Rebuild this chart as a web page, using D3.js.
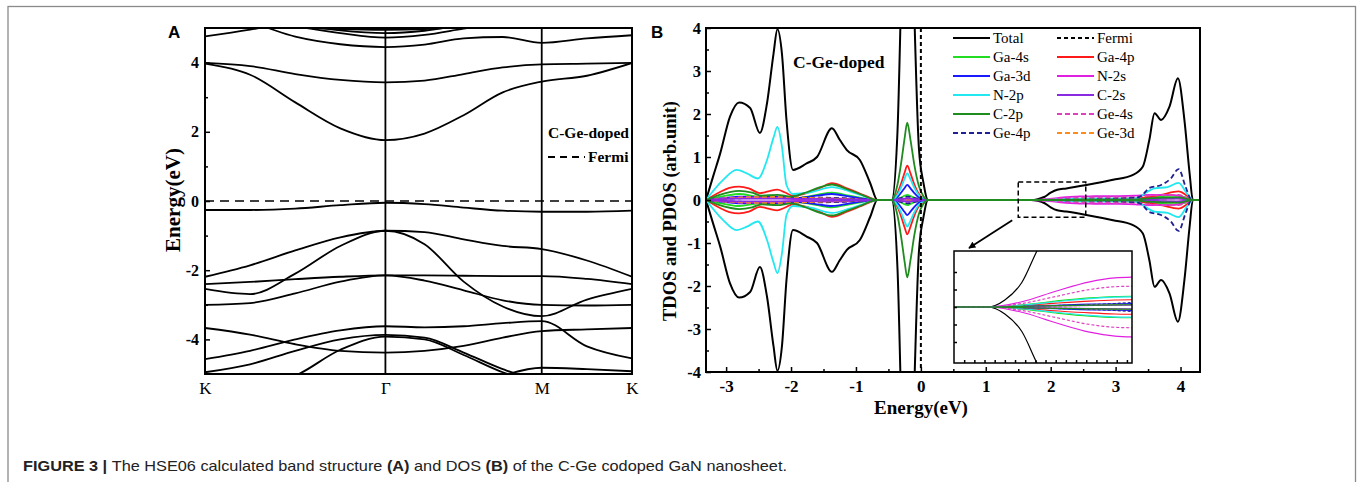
<!DOCTYPE html>
<html>
<head>
<meta charset="utf-8">
<script src="https://cdn.jsdelivr.net/npm/d3@7"></script>
<style>
  body { margin: 0; background: #fff; }
  svg { display: block; }
</style>
</head>
<body>
<svg id="fig"></svg>
<script>
const width = 1358;
const height = 482;
const serif = '"Liberation Serif", "Times New Roman", serif';

// ---- panel A : band structure ----
const kLabels = ['K', 'Γ', 'M', 'K'];
const kNodes = [0, 1.333, 2.488, 3.155];
const kGrid = [0, 0.333, 0.667, 1.0, 1.333, 1.622, 1.911, 2.2, 2.488, 2.822, 3.155];
const energyTicksA = [-4, -2, 0, 2, 4];

// energies (eV) at each kGrid point, values past +-5 run out of the frame
const conductionBands = [
  [3.97, 3.65, 2.85, 2.1, 1.76, 1.95, 2.48, 3.14, 3.45, 3.62, 3.99],
  [3.99, 3.9, 3.67, 3.5, 3.43, 3.48, 3.67, 3.86, 3.95, 3.97, 3.99],
  [5.3, 5.15, 4.75, 4.53, 4.45, 4.52, 4.7, 4.74, 4.57, 4.7, 4.79],
  [4.76, 4.95, 5.2, 5.4, 5.4, 5.4, 5.4, 5.4, 5.4, 5.4, 5.4],
  [5.4, 5.25, 5.05, 4.85, 4.72, 4.8, 4.98, 5.15, 5.3, 5.3, 5.3],
  [5.4, 5.35, 5.12, 4.93, 4.85, 4.92, 5.1, 5.3, 5.4, 5.4, 5.4],
  [5.3, 5.2, 5.02, 4.97, 4.95, 4.97, 5.05, 5.2, 5.3, 5.3, 5.3]
];
const defectBand = [-0.26, -0.26, -0.22, -0.12, -0.05, -0.09, -0.19, -0.28, -0.31, -0.31, -0.28];
const valenceBands = [
  [-2.19, -1.86, -1.43, -1.05, -0.86, -0.9, -1.11, -1.3, -1.39, -1.72, -2.19],
  [-2.54, -2.69, -2.1, -1.3, -0.86, -1.25, -2.33, -3.05, -3.33, -2.85, -2.54],
  [-2.4, -2.34, -2.26, -2.19, -2.15, -2.15, -2.16, -2.17, -2.17, -2.25, -2.4],
  [-3.0, -2.95, -2.67, -2.33, -2.15, -2.3, -2.58, -2.87, -3.0, -3.02, -3.0],
  [-3.67, -3.86, -4.14, -4.33, -4.38, -4.33, -4.19, -3.95, -3.76, -3.71, -3.67],
  [-4.57, -4.33, -4.0, -3.74, -3.62, -3.65, -3.62, -3.53, -3.47, -4.2, -4.55],
  [-4.95, -4.72, -4.33, -4.0, -3.87, -3.95, -4.38, -4.86, -5.2, -5.3, -5.3],
  [-5.5, -5.4, -5.05, -4.3, -3.92, -4.0, -4.45, -4.95, -5.3, -5.4, -5.5],
  [-5.5, -5.5, -5.5, -5.5, -5.5, -5.5, -5.5, -5.05, -4.82, -4.86, -4.92]
];

// ---- panel B : TDOS / PDOS, [energy, states] ----
const dosTotal = [[-3.31,0],[-3.2,0.55],[-3.09,1.09],[-2.94,1.94],[-2.8,2.27],[-2.63,2.14],[-2.48,1.56],[-2.37,2.25],[-2.27,3.4],[-2.21,3.97],[-2.14,3.4],[-2.07,1.86],[-1.97,0.7],[-1.76,0.85],[-1.6,1.0],[-1.37,1.67],[-1.25,1.4],[-1.14,1.16],[-0.94,0.93],[-0.78,0.39],[-0.67,0],
  [-0.45,0],[-0.36,1.6],[-0.3,5],[-0.25,8],[-0.21,9],[-0.16,8],[-0.1,4.3],[-0.03,1.2],[0.04,0.4],[0.11,0],
  [1.7,0],[1.8,0.02],[1.9,0.07],[2.0,0.17],[2.1,0.24],[2.24,0.27],[2.55,0.35],[2.96,0.47],[3.26,0.58],[3.42,0.78],[3.52,1.4],[3.6,2.02],[3.7,1.86],[3.83,2.17],[3.96,2.83],[4.06,1.86],[4.14,0.62],[4.19,0],[4.3,0]];
const dosGa4s = [[-3.31,0],[-3.0,0.1],[-2.8,0.14],[-2.5,0.08],[-2.21,0.07],[-1.9,0.05],[-1.6,0.12],[-1.37,0.17],[-1.1,0.1],[-0.85,0.03],[-0.67,0],
  [-0.45,0],[-0.36,0.02],[-0.3,0.06],[-0.25,0.1],[-0.21,0.12],[-0.16,0.09],[-0.1,0.05],[-0.03,0.02],[0.04,0.005],[0.11,0],
  [1.7,0],[1.9,0.006],[2.1,0.017],[2.3,0.026],[2.45,0.03],[2.6,0.031],[3.3,0.04],[3.6,0.08],[3.97,0.1],[4.1,0.05],[4.19,0],[4.3,0]];
const dosGa4p = [[-3.31,0],[-3.1,0.18],[-2.95,0.28],[-2.8,0.31],[-2.65,0.27],[-2.48,0.16],[-2.35,0.2],[-2.21,0.24],[-2.1,0.18],[-1.97,0.1],[-1.76,0.16],[-1.55,0.28],[-1.37,0.39],[-1.14,0.27],[-0.94,0.15],[-0.78,0.05],[-0.67,0],
  [-0.45,0],[-0.36,0.16],[-0.3,0.4],[-0.25,0.64],[-0.21,0.8],[-0.16,0.62],[-0.1,0.36],[-0.03,0.14],[0.04,0.04],[0.11,0],
  [1.7,0],[1.9,0.004],[2.1,0.011],[2.3,0.017],[2.45,0.02],[2.6,0.021],[3.3,0.03],[3.5,0.07],[3.7,0.12],[3.97,0.2],[4.1,0.1],[4.19,0],[4.3,0]];
const dosGa3d = [[-3.31,0],[-3.0,0.05],[-2.8,0.08],[-2.5,0.06],[-2.21,0.08],[-1.9,0.05],[-1.6,0.1],[-1.37,0.14],[-1.1,0.08],[-0.9,0.03],[-0.67,0],
  [-0.45,0],[-0.36,0.07],[-0.3,0.18],[-0.25,0.28],[-0.21,0.35],[-0.16,0.27],[-0.1,0.16],[-0.03,0.06],[0.04,0.02],[0.11,0],
  [1.7,0],[1.9,0.002],[2.1,0.005],[2.3,0.008],[2.45,0.009],[2.6,0.01],[3.3,0.015],[3.6,0.04],[3.97,0.05],[4.19,0],[4.3,0]];
const dosN2s = [[-3.31,0],[-3.0,0.03],[-2.8,0.05],[-2.21,0.05],[-1.9,0.02],[-1.37,0.04],[-0.67,0],
  [-0.45,0],[-0.36,0.005],[-0.3,0.015],[-0.25,0.025],[-0.21,0.03],[-0.16,0.025],[-0.1,0.015],[-0.03,0.005],[0.11,0],
  [1.7,0],[1.9,0.015],[2.1,0.045],[2.3,0.072],[2.45,0.083],[2.6,0.086],[3.0,0.09],[3.3,0.1],[3.5,0.12],[3.8,0.12],[3.97,0.1],[4.19,0],[4.3,0]];
const dosN2p = [[-3.31,0],[-3.05,0.46],[-2.84,0.7],[-2.68,0.62],[-2.51,0.5],[-2.37,0.93],[-2.27,1.45],[-2.21,1.7],[-2.14,1.24],[-2.07,0.35],[-1.97,0.14],[-1.7,0.18],[-1.37,0.3],[-1.1,0.2],[-0.9,0.1],[-0.67,0],
  [-0.45,0],[-0.36,0.12],[-0.3,0.31],[-0.25,0.5],[-0.21,0.62],[-0.16,0.48],[-0.1,0.28],[-0.03,0.11],[0.04,0.03],[0.11,0],
  [1.7,0],[1.9,0.005],[2.1,0.015],[2.3,0.024],[2.45,0.028],[2.6,0.029],[3.3,0.035],[3.5,0.2],[3.6,0.27],[3.8,0.3],[3.97,0.4],[4.1,0.15],[4.19,0],[4.3,0]];
const dosC2s = [[-3.31,0],[-2.8,0.03],[-2.2,0.03],[-1.37,0.02],[-0.67,0],
  [-0.45,0],[-0.36,0.01],[-0.3,0.02],[-0.25,0.03],[-0.21,0.035],[-0.16,0.03],[-0.1,0.02],[-0.03,0.01],[0.11,0],
  [1.7,0],[2.1,0.003],[2.45,0.005],[3.3,0.01],[3.97,0.03],[4.19,0],[4.3,0]];
const dosC2p = [[-3.31,0],[-3.1,0.12],[-2.8,0.21],[-2.6,0.17],[-2.45,0.1],[-2.21,0.12],[-2.0,0.08],[-1.76,0.18],[-1.55,0.3],[-1.37,0.36],[-1.14,0.25],[-0.94,0.14],[-0.78,0.04],[-0.67,0],
  [-0.45,0],[-0.36,0.36],[-0.3,0.9],[-0.25,1.44],[-0.21,1.8],[-0.16,1.4],[-0.1,0.81],[-0.03,0.32],[0.04,0.09],[0.11,0],
  [1.7,0],[1.9,0.002],[2.1,0.004],[2.45,0.006],[3.3,0.01],[3.5,0.04],[3.97,0.06],[4.19,0],[4.3,0]];
const dosGe4s = [[-3.31,0],[-2.8,0.06],[-2.3,0.08],[-1.9,0.04],[-1.37,0.04],[-0.67,0],
  [-0.45,0],[-0.36,0.01],[-0.3,0.025],[-0.25,0.035],[-0.21,0.04],[-0.16,0.035],[-0.1,0.02],[-0.03,0.01],[0.11,0],
  [1.7,0],[1.9,0.01],[2.1,0.03],[2.3,0.05],[2.45,0.058],[2.6,0.06],[3.0,0.065],[3.3,0.07],[3.5,0.1],[3.8,0.12],[3.97,0.12],[4.19,0],[4.3,0]];
const dosGe4p = [[-3.31,0],[-2.8,0.04],[-2.3,0.06],[-1.37,0.05],[-0.67,0],
  [-0.45,0],[-0.36,0.02],[-0.3,0.05],[-0.25,0.07],[-0.21,0.08],[-0.16,0.07],[-0.1,0.05],[-0.03,0.02],[0.11,0],
  [1.7,0],[2.1,0.004],[2.45,0.01],[3.3,0.05],[3.4,0.1],[3.52,0.28],[3.7,0.35],[3.85,0.5],[3.97,0.72],[4.08,0.3],[4.17,0],[4.3,0]];
const dosGe3d = [[-3.31,0],[-2.8,0.05],[-2.3,0.07],[-1.37,0.03],[-0.67,0],
  [-0.45,0],[-0.3,0.01],[-0.21,0.02],[-0.1,0.01],[0.11,0],
  [1.7,0],[2.1,0.003],[2.45,0.006],[3.3,0.01],[3.97,0.04],[4.19,0],[4.3,0]];

const legendNames = ['Total', 'Fermi', 'Ga-4s', 'Ga-4p', 'Ga-3d', 'N-2s', 'N-2p', 'C-2s', 'C-2p', 'Ge-4s', 'Ge-4p', 'Ge-3d'];
const energyTicksB = [-3, -2, -1, 0, 1, 2, 3, 4];
const dosTicks = [-4, -3, -2, -1, 0, 1, 2, 3, 4];
const zoomBox = [1.5, 2.54, -0.4, 0.42];   // E from, E to, DOS from, DOS to

// styles per legend entry
const styles = {
  'Total': { color: '#000', dash: null, w: 2 },
  'Fermi': { color: '#000', dash: '4,3', w: 1.8 },
  'Ga-4s': { color: '#22dd22', dash: null, w: 1.8 },
  'Ga-4p': { color: '#ff1a1a', dash: null, w: 1.8 },
  'Ga-3d': { color: '#1a1aff', dash: null, w: 1.8 },
  'N-2s':  { color: '#e020e0', dash: null, w: 1.8 },
  'N-2p':  { color: '#22e8f0', dash: null, w: 1.8 },
  'C-2s':  { color: '#8a2be2', dash: null, w: 1.8 },
  'C-2p':  { color: '#1e8c1e', dash: null, w: 1.8 },
  'Ge-4s': { color: '#e040c0', dash: '5,3', w: 1.8 },
  'Ge-4p': { color: '#202090', dash: '5,3', w: 1.8 },
  'Ge-3d': { color: '#ff8c1a', dash: '5,3', w: 1.8 }
};
// drawing order (C-2p on top, like the original)
const dosSeries = [
  ['Total', dosTotal], ['Ga-4s', dosGa4s], ['Ga-4p', dosGa4p], ['Ga-3d', dosGa3d],
  ['N-2s', dosN2s], ['N-2p', dosN2p], ['Ge-4s', dosGe4s], ['Ge-4p', dosGe4p],
  ['Ge-3d', dosGe3d], ['C-2s', dosC2s], ['C-2p', dosC2p]
];

const svg = d3.select('#fig')
  .attr('width', width)
  .attr('height', height);

svg.append('rect')
  .attr('width', width)
  .attr('height', height)
  .attr('fill', '#fff');

// outer frame of the figure
svg.append('rect')
  .attr('x', 8).attr('y', 6.5)
  .attr('width', 1347.5).attr('height', 600)
  .attr('fill', 'none')
  .attr('stroke', '#8a8a8a')
  .attr('stroke-width', 1.3);

const defs = svg.append('defs');
defs.append('clipPath').attr('id', 'clipA')
  .append('rect').attr('x', 205).attr('y', 28).attr('width', 427).attr('height', 346);
defs.append('clipPath').attr('id', 'clipB')
  .append('rect').attr('x', 706).attr('y', 28).attr('width', 494).attr('height', 344);
defs.append('clipPath').attr('id', 'clipI')
  .append('rect').attr('x', 954).attr('y', 251).attr('width', 178).attr('height', 112);
defs.append('marker')
  .attr('id', 'arrow')
  .attr('viewBox', '0 0 10 10')
  .attr('refX', 9).attr('refY', 5)
  .attr('markerWidth', 7).attr('markerHeight', 7)
  .attr('markerUnits', 'userSpaceOnUse')
  .attr('orient', 'auto')
  .append('path').attr('d', 'M0,0L10,5L0,10z').attr('fill', '#000');

function styleAxis(g, size) {
  g.select('.domain').remove();
  g.selectAll('line').attr('stroke', '#000').attr('stroke-width', 1.5);
  g.selectAll('text')
    .attr('fill', '#000')
    .attr('font-family', serif)
    .attr('font-weight', 'bold')
    .attr('font-size', size);
}

// ================= panel A =================
const xA = d3.scaleLinear().domain([0, 3.155]).range([205, 632]);
const yA = d3.scaleLinear().domain([-5, 5]).range([374, 28]);
const gA = svg.append('g').attr('id', 'panelA');

const bandLine = d3.line()
  .x((d, i) => xA(kGrid[i]))
  .y(d => yA(d))
  .curve(d3.curveMonotoneX);

const bandsG = gA.append('g').attr('clip-path', 'url(#clipA)');
bandsG.selectAll('path.band')
  .data(conductionBands.concat([defectBand], valenceBands))
  .enter().append('path')
  .attr('class', 'band')
  .attr('d', bandLine)
  .attr('fill', 'none')
  .attr('stroke', '#000')
  .attr('stroke-width', 1.8);

// high symmetry lines
gA.selectAll('line.hs')
  .data(kNodes.slice(1, 3))
  .enter().append('line')
  .attr('x1', d => xA(d)).attr('x2', d => xA(d))
  .attr('y1', yA(5)).attr('y2', yA(-5))
  .attr('stroke', '#000').attr('stroke-width', 1.8);

// Fermi level
gA.append('line')
  .attr('x1', xA(0)).attr('x2', xA(3.155))
  .attr('y1', yA(0)).attr('y2', yA(0))
  .attr('stroke', '#000').attr('stroke-width', 1.5)
  .attr('stroke-dasharray', '9,6');

gA.append('rect')
  .attr('x', 205).attr('y', 28).attr('width', 427).attr('height', 346)
  .attr('fill', 'none').attr('stroke', '#000').attr('stroke-width', 2);

gA.append('g')
  .attr('transform', 'translate(205,0)')
  .call(d3.axisLeft(yA).tickValues(energyTicksA).tickFormat(d => String(d)).tickSize(-5).tickPadding(6))
  .call(g => styleAxis(g, 16));
gA.append('g')
  .attr('transform', 'translate(205,0)')
  .call(d3.axisLeft(yA).tickValues([-3, -1, 1, 3]).tickFormat('').tickSize(-3))
  .call(g => styleAxis(g, 16));
gA.append('g')
  .attr('transform', 'translate(0,374)')
  .call(d3.axisBottom(xA).tickValues(kNodes).tickFormat((d, i) => kLabels[i]).tickSize(0).tickPadding(8))
  .call(g => styleAxis(g, 17))
  .call(g => g.selectAll('text').attr('font-weight', 'normal'));

gA.append('text')
  .attr('transform', 'translate(180,200) rotate(-90)')
  .attr('text-anchor', 'middle')
  .attr('font-family', serif).attr('font-weight', 'bold').attr('font-size', 21)
  .text('Energy(eV)');

gA.append('text')
  .attr('x', 548).attr('y', 138)
  .attr('font-family', serif).attr('font-weight', 'bold').attr('font-size', 15.5)
  .text('C-Ge-doped');
gA.append('line')
  .attr('x1', 548).attr('x2', 585).attr('y1', 157).attr('y2', 157)
  .attr('stroke', '#000').attr('stroke-width', 1.8).attr('stroke-dasharray', '7,5');
gA.append('text')
  .attr('x', 588).attr('y', 162)
  .attr('font-family', serif).attr('font-weight', 'bold').attr('font-size', 15.5)
  .text('Fermi');

svg.append('text')
  .attr('x', 168).attr('y', 38)
  .attr('font-family', '"Liberation Sans", Arial, sans-serif')
  .attr('font-weight', 'bold').attr('font-size', 17)
  .text('A');

// ================= panel B =================
const xB = d3.scaleLinear().domain([-3.31, 4.3]).range([706, 1200]);
const yB = d3.scaleLinear().domain([-4, 4]).range([372, 28]);
const gB = svg.append('g').attr('id', 'panelB');

function dosPath(xs, ys, sign) {
  return d3.line()
    .x(d => xs(d[0]))
    .y(d => ys(sign * d[1]))
    .curve(d3.curveMonotoneX);
}

const curvesB = gB.append('g').attr('clip-path', 'url(#clipB)');
dosSeries.forEach(([name, data]) => {
  const st = styles[name];
  [1, -1].forEach(sign => {
    curvesB.append('path')
      .attr('d', dosPath(xB, yB, sign)(data))
      .attr('fill', 'none')
      .attr('stroke', st.color)
      .attr('stroke-width', st.w)
      .attr('stroke-dasharray', st.dash);
  });
});

// Fermi level
gB.append('line')
  .attr('x1', xB(0)).attr('x2', xB(0))
  .attr('y1', yB(4)).attr('y2', yB(-4))
  .attr('stroke', '#000').attr('stroke-width', 2)
  .attr('stroke-dasharray', '4,3');

// zoomed region box and arrow
gB.append('rect')
  .attr('x', xB(zoomBox[0])).attr('y', yB(zoomBox[3]))
  .attr('width', xB(zoomBox[1]) - xB(zoomBox[0]))
  .attr('height', yB(zoomBox[2]) - yB(zoomBox[3]))
  .attr('fill', 'none').attr('stroke', '#000').attr('stroke-width', 1.5)
  .attr('stroke-dasharray', '5,3');
gB.append('line')
  .attr('x1', xB(zoomBox[0]) - 6).attr('y1', yB(zoomBox[2]) + 3)
  .attr('x2', 969).attr('y2', 248)
  .attr('stroke', '#000').attr('stroke-width', 1.8)
  .attr('marker-end', 'url(#arrow)');

// inset
const xI = d3.scaleLinear().domain([1.5, 2.55]).range([954, 1132]);
const yI = d3.scaleLinear().domain([-0.16, 0.16]).range([363, 251]);
const gI = gB.append('g').attr('id', 'inset');
gI.append('rect')
  .attr('x', 954).attr('y', 251).attr('width', 178).attr('height', 112)
  .attr('fill', '#fff');
const curvesI = gI.append('g').attr('clip-path', 'url(#clipI)');
dosSeries.forEach(([name, data]) => {
  const st = styles[name];
  [1, -1].forEach(sign => {
    curvesI.append('path')
      .attr('d', dosPath(xI, yI, sign)(data))
      .attr('fill', 'none')
      .attr('stroke', st.color)
      .attr('stroke-width', 1.2)
      .attr('stroke-dasharray', st.dash ? '3,2' : null);
  });
});
gI.append('rect')
  .attr('x', 954).attr('y', 251).attr('width', 178).attr('height', 112)
  .attr('fill', 'none').attr('stroke', '#000').attr('stroke-width', 1.5);
gI.append('g')
  .attr('transform', 'translate(954,0)')
  .call(d3.axisLeft(yI).tickValues([-0.1, -0.05, 0, 0.05, 0.1]).tickFormat('').tickSize(-3))
  .call(g => styleAxis(g, 10));
gI.append('g')
  .attr('transform', 'translate(0,363)')
  .call(d3.axisBottom(xI).tickValues(d3.range(1.56, 2.55, 0.06)).tickFormat('').tickSize(-3))
  .call(g => styleAxis(g, 10));

gB.append('rect')
  .attr('x', 706).attr('y', 28).attr('width', 494).attr('height', 344)
  .attr('fill', 'none').attr('stroke', '#000').attr('stroke-width', 2);

gB.append('g')
  .attr('transform', 'translate(706,0)')
  .call(d3.axisLeft(yB).tickValues(dosTicks).tickFormat(d => String(d)).tickSize(-5).tickPadding(5))
  .call(g => styleAxis(g, 16.5));
gB.append('g')
  .attr('transform', 'translate(706,0)')
  .call(d3.axisLeft(yB).tickValues(dosTicks.slice(1).map(d => d - 0.5)).tickFormat('').tickSize(-3))
  .call(g => styleAxis(g, 16));
gB.append('g')
  .attr('transform', 'translate(0,372)')
  .call(d3.axisBottom(xB).tickValues(energyTicksB).tickFormat(d => String(d)).tickSize(-5).tickPadding(8))
  .call(g => styleAxis(g, 17));
gB.append('g')
  .attr('transform', 'translate(0,372)')
  .call(d3.axisBottom(xB).tickValues(energyTicksB.slice(1).map(d => d - 0.5)).tickFormat('').tickSize(-3))
  .call(g => styleAxis(g, 16));

gB.append('text')
  .attr('x', 921).attr('y', 414)
  .attr('text-anchor', 'middle')
  .attr('font-family', serif).attr('font-weight', 'bold').attr('font-size', 19)
  .text('Energy(eV)');
gB.append('text')
  .attr('transform', 'translate(676,211) rotate(-90)')
  .attr('text-anchor', 'middle')
  .attr('font-family', serif).attr('font-weight', 'bold').attr('font-size', 18.5)
  .text('TDOS and PDOS (arb.unit)');
gB.append('text')
  .attr('x', 793).attr('y', 68)
  .attr('font-family', serif).attr('font-weight', 'bold').attr('font-size', 17.5)
  .text('C-Ge-doped');

// legend, two columns
const legend = gB.append('g').attr('id', 'legend');
const leg = legend.selectAll('g')
  .data(legendNames)
  .enter().append('g')
  .attr('transform', (d, i) => `translate(${i % 2 ? 1057 : 953},${38 + Math.floor(i / 2) * 19})`);
leg.append('line')
  .attr('x1', 0).attr('x2', 37)
  .attr('stroke', d => styles[d].color)
  .attr('stroke-width', 1.8)
  .attr('stroke-dasharray', d => styles[d].dash);
leg.append('text')
  .attr('x', 40).attr('y', 5)
  .attr('font-family', serif).attr('font-size', 15)
  .text(d => d);

svg.append('text')
  .attr('x', 651).attr('y', 38)
  .attr('font-family', '"Liberation Sans", Arial, sans-serif')
  .attr('font-weight', 'bold').attr('font-size', 17)
  .text('B');

// ================= caption =================
const cap = svg.append('text')
  .attr('x', 23).attr('y', 471)
  .attr('font-family', '"Liberation Sans Narrow", "Arial Narrow", "Liberation Sans", sans-serif')
  .attr('font-size', 15)
  .attr('fill', '#222')
  .attr('textLength', 764)
  .attr('lengthAdjust', 'spacingAndGlyphs');
const capParts = [
  ['FIGURE 3 | ', true], ['The HSE06 calculated band structure ', false], ['(A)', true],
  [' and DOS ', false], ['(B)', true], [' of the C-Ge codoped GaN nanosheet.', false]
];
capParts.forEach(([t, b]) => {
  cap.append('tspan').attr('font-weight', b ? 'bold' : 'normal').text(t);
});
</script>
</body>
</html>
